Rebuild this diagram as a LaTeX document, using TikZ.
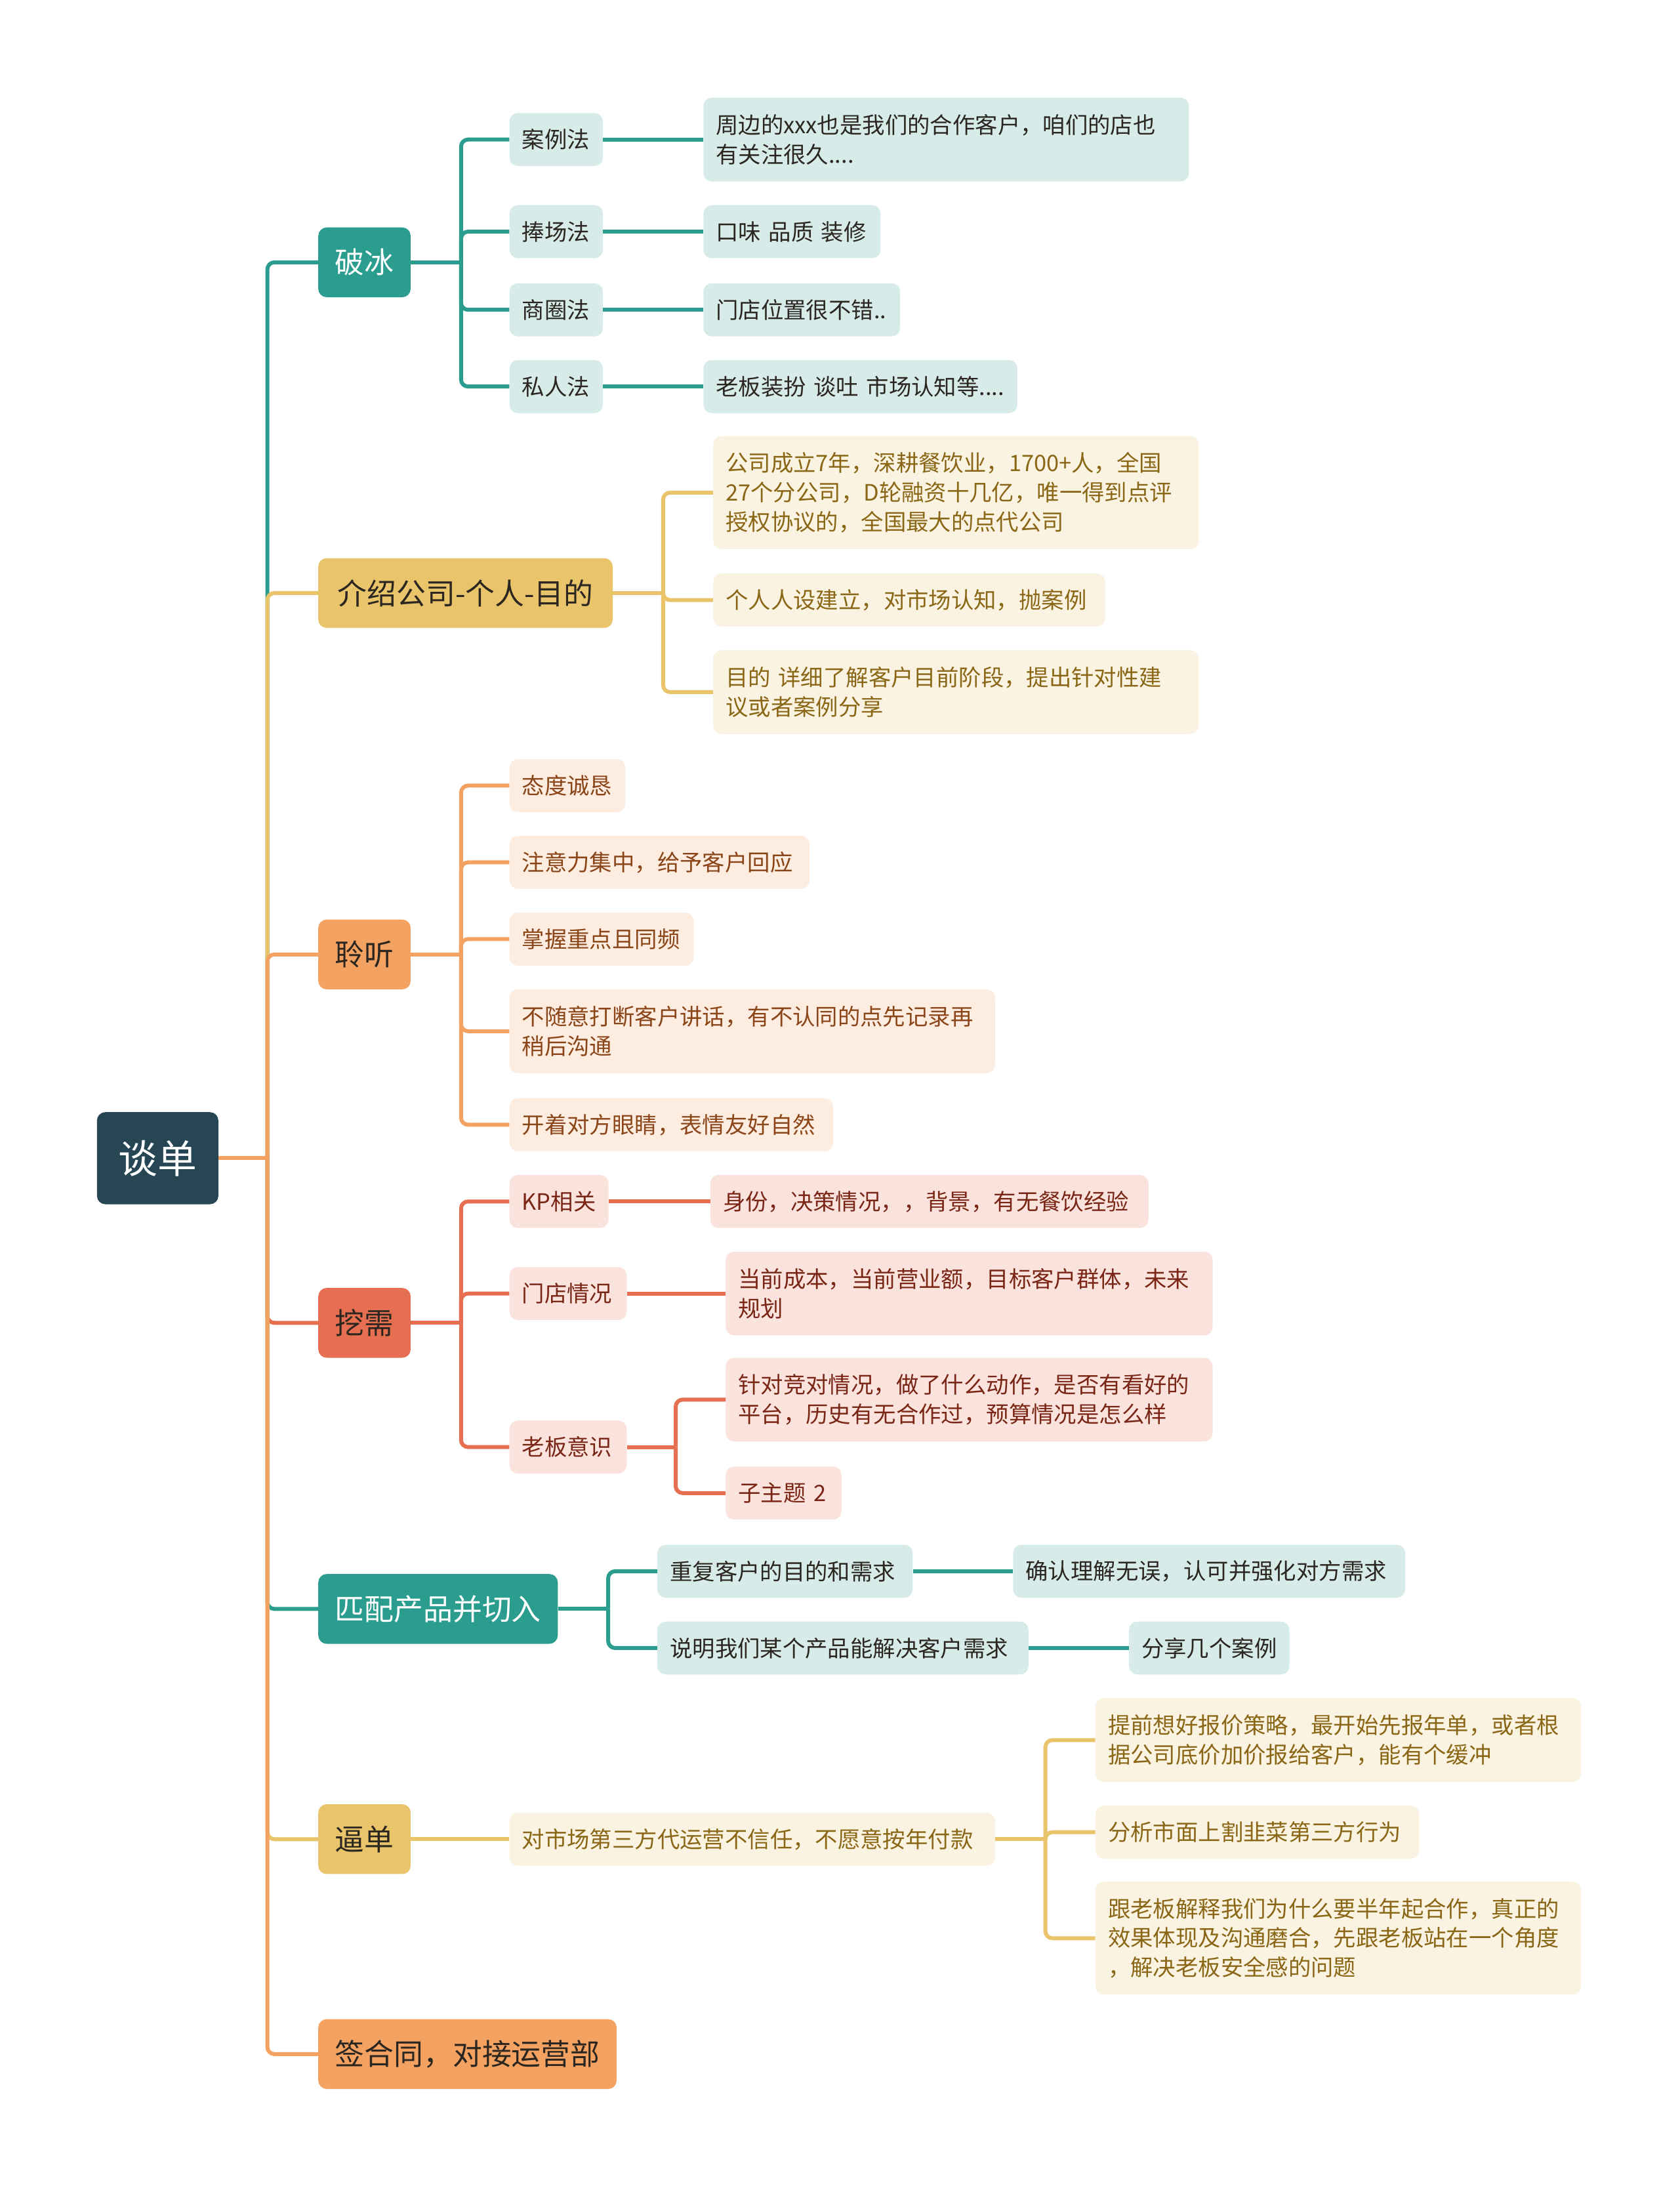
\documentclass[tikz,border=0pt]{standalone}
\usepackage{fontspec}
\setmainfont{Noto Sans CJK SC}
\usetikzlibrary{positioning}

\definecolor{rootc}{HTML}{264653}
\definecolor{tealc}{HTML}{2A9D8F}
\definecolor{tealbg}{HTML}{D7ECE9}
\definecolor{yelc}{HTML}{E9C46A}
\definecolor{yelbg}{HTML}{FBF3E1}
\definecolor{yeltx}{HTML}{8A6716}
\definecolor{orac}{HTML}{F4A261}
\definecolor{orabg}{HTML}{FDECE0}
\definecolor{oratx}{HTML}{8A4518}
\definecolor{redc}{HTML}{E76F51}
\definecolor{redbg}{HTML}{FAE3DD}
\definecolor{redtx}{HTML}{7A2616}
\definecolor{darktx}{HTML}{2B2620}

\tikzset{
  rootbox/.style={fill=rootc, text=white, rounded corners=3mm,
    minimum width=43.5mm, minimum height=33mm, font=\fontsize{40}{46}\selectfont},
  topicbox/.style={rounded corners=3mm, anchor=west, minimum height=25mm,
    inner xsep=6mm, inner ysep=0pt, font=\fontsize{30}{36}\selectfont},
  subbox/.style={rounded corners=3mm, anchor=west, align=left, minimum height=19mm,
    inner xsep=4.5mm, inner ysep=5.5mm, font=\fontsize{23}{30}\selectfont},
  tealtop/.style={topicbox, fill=tealc, text=white},
  yeltop/.style={topicbox, fill=yelc, text=darktx},
  oratop/.style={topicbox, fill=orac, text=darktx},
  redtop/.style={topicbox, fill=redc, text=darktx},
  tealsub/.style={subbox, fill=tealbg, text=darktx},
  yelsub/.style={subbox, fill=yelbg, text=yeltx},
  orasub/.style={subbox, fill=orabg, text=oratx},
  redsub/.style={subbox, fill=redbg, text=redtx},
  link/.style={line width=4pt, rounded corners=2.5mm},
}

\begin{document}
\begin{tikzpicture}[x=0.5mm, y=-0.5mm]
\fill[white] (0,0) rectangle (1204,1568);
\useasboundingbox (0,0) rectangle (1204,1568);

% root and main topics
\node[rootbox] (tandan) at (113,830) {谈单};
\coordinate[right=17.5mm of tandan] (hub);

\node[tealtop, minimum width=32.5mm] (pobing) at (228,188) {破冰};
\node[yeltop, minimum width=105.5mm] (jieshao) at (228,425) {介绍公司-个人-目的};
\node[oratop, minimum width=32.5mm] (lingting) at (228,684) {聆听};
\node[redtop, minimum width=32.5mm] (waxu) at (228,948) {挖需};
\node[tealtop, minimum width=85.5mm] (pipei) at (228,1153) {匹配产品并切入};
\node[yeltop, minimum width=32.5mm] (bidan) at (228,1318) {逼单};
\node[oratop, minimum width=106.5mm] (qianhetong) at (228,1472) {签合同，对接运营部};

% 破冰
\node[tealsub, text width=24.5mm] (anli) at (365,100) {案例法};
\node[tealsub, text width=24.5mm] (pengchang) at (365,166) {捧场法};
\node[tealsub, text width=24.5mm] (shangquan) at (365,222) {商圈法};
\node[tealsub, text width=24.5mm] (siren) at (365,277) {私人法};
\node[tealsub, text width=165mm, minimum height=30mm] (anliT) at (504,100) {周边的xxx也是我们的合作客户，咱们的店也\\有关注很久....};
\node[tealsub, text width=54.5mm] (pengchangT) at (504,166) {口味 品质 装修};
\node[tealsub, text width=61.5mm] (shangquanT) at (504,222) {门店位置很不错..};
\node[tealsub, text width=103.5mm] (sirenT) at (504,277) {老板装扮 谈吐 市场认知等....};

% 介绍公司
\node[yelsub, text width=165mm, minimum height=40.5mm] (js1) at (511,353) {公司成立7年，深耕餐饮业，1700+人，全国\\27个分公司，D轮融资十几亿，唯一得到点评\\授权协议的，全国最大的点代公司};
\node[yelsub, text width=131.5mm] (js2) at (511,430) {个人人设建立，对市场认知，抛案例};
\node[yelsub, text width=165mm, minimum height=30mm] (js3) at (511,496) {目的 详细了解客户目前阶段，提出针对性建\\议或者案例分享};

% 聆听
\node[orasub, text width=32.5mm] (lt1) at (365,563) {态度诚恳};
\node[orasub, text width=98.5mm] (lt2) at (365,618) {注意力集中，给予客户回应};
\node[orasub, text width=57mm] (lt3) at (365,673) {掌握重点且同频};
\node[orasub, text width=165mm, minimum height=30mm] (lt4) at (365,739) {不随意打断客户讲话，有不认同的点先记录再\\稍后沟通};
\node[orasub, text width=107mm] (lt5) at (365,806) {开着对方眼睛，表情友好自然};

% 挖需
\node[redsub, text width=26.5mm] (kp) at (365,861) {KP相关};
\node[redsub, text width=33mm] (mendian) at (365,927) {门店情况};
\node[redsub, text width=33mm] (laoban) at (365,1037) {老板意识};
\node[redsub, text width=148mm] (kpT) at (509,861) {身份，决策情况，，背景，有无餐饮经验};
\node[redsub, text width=165.5mm, minimum height=30mm] (mendianT) at (520,927) {当前成本，当前营业额，目标客户群体，未来\\规划};
\node[redsub, text width=165.5mm, minimum height=30mm] (laobanA) at (520,1003) {针对竞对情况，做了什么动作，是否有看好的\\平台，历史有无合作过，预算情况是怎么样};
\node[redsub, text width=32.5mm] (laobanB) at (520,1070) {子主题 2};

% 匹配产品
\node[tealsub, text width=82.5mm] (cf) at (471,1126) {重复客户的目的和需求};
\node[tealsub, text width=124mm] (sm) at (471,1181) {说明我们某个产品能解决客户需求};
\node[tealsub, text width=131.5mm] (cfT) at (726,1126) {确认理解无误，认可并强化对方需求};
\node[tealsub, text width=48.5mm] (smT) at (809,1181) {分享几个案例};

% 逼单
\node[yelsub, text width=165mm] (bd) at (365,1318) {对市场第三方代运营不信任，不愿意按年付款};
\node[yelsub, text width=165mm, minimum height=30mm] (bdA) at (785,1247) {提前想好报价策略，最开始先报年单，或者根\\据公司底价加价报给客户，能有个缓冲};
\node[yelsub, text width=107mm] (bdB) at (785,1313) {分析市面上割韭菜第三方行为};
\node[yelsub, text width=165mm, minimum height=40.5mm] (bdC) at (785,1389) {跟老板解释我们为什么要半年起合作，真正的\\效果体现及沟通磨合，先跟老板站在一个角度\\，解决老板安全感的问题};

% junctions
\coordinate[right=18mm of pobing] (pobingJ);
\coordinate[right=18mm of jieshao] (jieshaoJ);
\coordinate[right=18mm of lingting] (lingtingJ);
\coordinate[right=18mm of waxu] (waxuJ);
\coordinate[right=17.5mm of laoban] (laobanJ);
\coordinate[right=18mm of pipei] (pipeiJ);
\coordinate[right=18mm of bd] (bdJ);

% trunk
\draw[link, tealc] (hub) |- (pobing.west);
\draw[link, yelc] (hub) |- (jieshao.west);
\draw[link, orac] (hub) |- (lingting.west);
\draw[link, redc] (hub) |- (waxu.west);
\draw[link, tealc] (hub) |- (pipei.west);
\draw[link, yelc] (hub) |- (bidan.west);
\draw[link, orac] (hub) |- (qianhetong.west);
\draw[link, orac] (tandan.east) -- (hub);

% 破冰 links
\draw[link, tealc] (pobing.east) -- (pobingJ);
\foreach \s in {anli,pengchang,shangquan,siren}{
  \draw[link, tealc] (pobingJ) |- (\s.west);
  \draw[link, tealc] (\s.east) -- (\s T.west);
}

% 介绍 links
\draw[link, yelc] (jieshao.east) -- (jieshaoJ);
\foreach \s in {js1,js2,js3}
  \draw[link, yelc] (jieshaoJ) |- (\s.west);

% 聆听 links
\draw[link, orac] (lingting.east) -- (lingtingJ);
\foreach \s in {lt1,lt2,lt3,lt4,lt5}
  \draw[link, orac] (lingtingJ) |- (\s.west);

% 挖需 links
\draw[link, redc] (waxu.east) -- (waxuJ);
\foreach \s in {kp,mendian,laoban}
  \draw[link, redc] (waxuJ) |- (\s.west);
\draw[link, redc] (kp.east) -- (kpT.west);
\draw[link, redc] (mendian.east) -- (mendianT.west);
\draw[link, redc] (laoban.east) -- (laobanJ);
\draw[link, redc] (laobanJ) |- (laobanA.west);
\draw[link, redc] (laobanJ) |- (laobanB.west);

% 匹配 links
\draw[link, tealc] (pipei.east) -- (pipeiJ);
\draw[link, tealc] (pipeiJ) |- (cf.west);
\draw[link, tealc] (pipeiJ) |- (sm.west);
\draw[link, tealc] (cf.east) -- (cfT.west);
\draw[link, tealc] (sm.east) -- (smT.west);

% 逼单 links
\draw[link, yelc] (bidan.east) -- (bd.west);
\draw[link, yelc] (bd.east) -- (bdJ);
\foreach \s in {bdA,bdB,bdC}
  \draw[link, yelc] (bdJ) |- (\s.west);
\end{tikzpicture}
\end{document}
